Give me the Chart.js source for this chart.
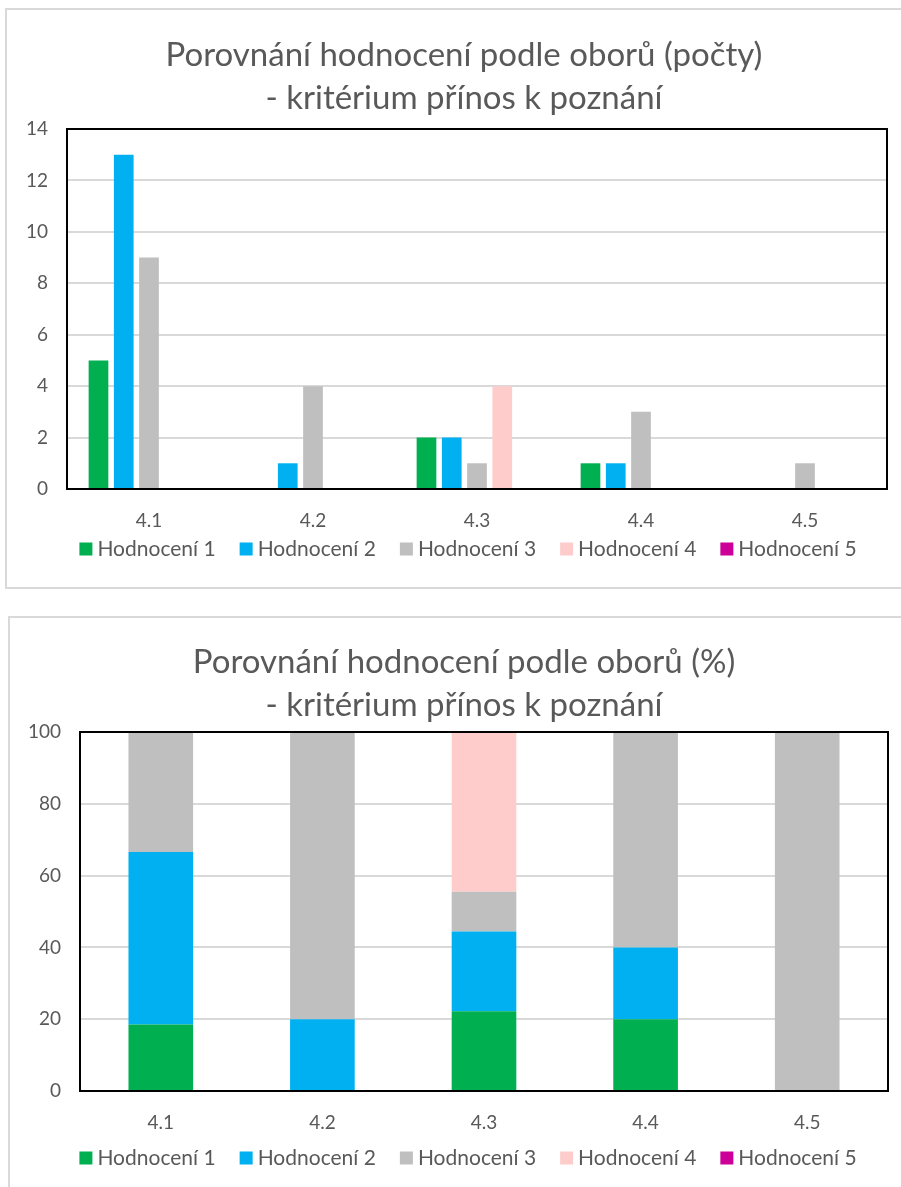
<!DOCTYPE html>
<html>
<head>
<meta charset="utf-8">
<script src="https://cdn.jsdelivr.net/npm/chart.js@4"></script>
<style>
  body { margin: 0; background: #fff; width: 901px; height: 1187px; overflow: hidden; position: relative; }
  .box { position: absolute; border: 2px solid #d9d9d9; background: #fff; }
  #boxTop { left: 5px; top: 8px; width: 930px; height: 577px; }
  #boxBottom { left: 8px; top: 616px; width: 930px; height: 600px; }
  canvas { position: absolute; }
  #countChart { left: 6px; top: 9px; }
  #pctChart { left: 8px; top: 617px; }
</style>
</head>
<body>
<div class="box" id="boxTop"></div>
<div class="box" id="boxBottom"></div>
<canvas id="countChart" width="916" height="578"></canvas>
<canvas id="pctChart" width="912" height="570"></canvas>
<script>
// data
const categories = ["4.1", "4.2", "4.3", "4.4", "4.5"];
const seriesNames = ["Hodnocení 1", "Hodnocení 2", "Hodnocení 3", "Hodnocení 4", "Hodnocení 5"];
const seriesColors = ["#00B050", "#00B0F0", "#BFBFBF", "#FFCCCC", "#CC0099"];

// counts (top chart)
const count1 = [5, 0, 2, 1, 0];
const count2 = [13, 1, 2, 1, 0];
const count3 = [9, 4, 1, 3, 1];
const count4 = [0, 0, 4, 0, 0];
const count5 = [0, 0, 0, 0, 0];

// percentages (bottom chart)
const pct1 = [18.5, 0, 22.2, 20, 0];
const pct2 = [48.1, 20, 22.2, 20, 0];
const pct3 = [33.4, 80, 11.1, 60, 100];
const pct4 = [0, 0, 44.5, 0, 0];
const pct5 = [0, 0, 0, 0, 0];

const countTicks = [0, 2, 4, 6, 8, 10, 12, 14];
const pctTicks = [0, 20, 40, 60, 80, 100];

const textColor = "#595959";
const fontName = "Lato";

// ================================
// frame around plot area
// ================================
const plotFrame = {
  id: "plotFrame",
  afterDraw(chart) {
    const a = chart.chartArea;
    const ctx = chart.ctx;
    ctx.save();
    ctx.strokeStyle = "#000";
    ctx.lineWidth = 2;
    ctx.strokeRect(a.left, a.top, a.right - a.left, a.bottom - a.top);
    ctx.restore();
  }
};

// title centred on the whole canvas, not on the padded box
const titleFullWidth = {
  id: "titleFullWidth",
  afterLayout(chart) {
    const t = chart.titleBlock;
    if (t) {
      t.left = 0;
      t.right = chart.width;
      t.width = chart.width;
    }
  }
};

// ================================
// legend row under the axis (excel-like spacing)
// ================================
const bottomLegend = {
  id: "bottomLegend",
  afterDraw(chart, args, opts) {
    const ctx = chart.ctx;
    const box = 13, gap = 5, spacing = 24;
    ctx.save();
    ctx.font = "21px " + fontName;
    const items = chart.data.datasets.map(ds => ({
      text: ds.label,
      color: ds.backgroundColor,
      w: box + gap + ctx.measureText(ds.label).width
    }));
    const total = items.reduce((s, it) => s + it.w, 0) + spacing * (items.length - 1);
    let x = chart.width / 2 + 4 - total / 2;
    const y = opts.y;
    ctx.textBaseline = "middle";
    items.forEach(it => {
      ctx.fillStyle = it.color;
      ctx.fillRect(x, y - box / 2, box, box);
      ctx.fillStyle = textColor;
      ctx.fillText(it.text, x + box + gap, y);
      x += it.w + spacing;
    });
    ctx.restore();
  }
};

function makeDatasets(lists) {
  return lists.map((d, i) => ({
    label: seriesNames[i],
    data: d,
    backgroundColor: seriesColors[i],
    borderWidth: 0
  }));
}

function makeOptions(cfg) {
  return {
    responsive: false,
    animation: false,
    layout: { padding: { left: 0, right: cfg.padRight, top: 0, bottom: cfg.padBottom } },
    plugins: {
      title: {
        display: true,
        text: cfg.title,
        color: textColor,
        font: { family: fontName, size: 33, weight: "normal", lineHeight: 43 / 33 },
        padding: { top: cfg.titleTop, bottom: cfg.titleBottom }
      },
      legend: { display: false },
      bottomLegend: { y: cfg.legendY },
      tooltip: { enabled: false }
    },
    scales: {
      x: {
        stacked: cfg.stacked,
        grid: { display: false, drawTicks: false },
        border: { display: false },
        ticks: { color: textColor, font: { family: fontName, size: 19 }, padding: 20 },
        afterFit(s) { s.height = 50; }
      },
      y: {
        stacked: cfg.stacked,
        min: 0,
        max: cfg.ticks[cfg.ticks.length - 1],
        grid: { color: "#d9d9d9", lineWidth: 2, drawTicks: false },
        border: { display: false },
        ticks: {
          color: textColor,
          font: { family: fontName, size: 19 },
          stepSize: cfg.ticks[1] - cfg.ticks[0],
          padding: 19
        },
        afterFit(s) { s.width = cfg.axisWidth; }
      }
    }
  };
}

new Chart(document.getElementById("countChart"), {
  type: "bar",
  data: {
    labels: categories,
    datasets: makeDatasets([count1, count2, count3, count4, count5]).map(ds => ({
      ...ds, categoryPercentage: 0.77, barPercentage: 0.78
    }))
  },
  options: makeOptions({
    title: ["Porovnání hodnocení podle oborů (počty)", "- kritérium přínos k poznání"],
    ticks: countTicks,
    stacked: false,
    axisWidth: 61,
    padRight: 35,
    padBottom: 48,
    titleTop: 25,
    titleBottom: 9,
    legendY: 540
  }),
  plugins: [plotFrame, titleFullWidth, bottomLegend]
});

new Chart(document.getElementById("pctChart"), {
  type: "bar",
  data: {
    labels: categories,
    datasets: makeDatasets([pct1, pct2, pct3, pct4, pct5]).map(ds => ({
      ...ds, categoryPercentage: 0.4, barPercentage: 1
    }))
  },
  options: makeOptions({
    title: ["Porovnání hodnocení podle oborů (%)", "- kritérium přínos k poznání"],
    ticks: pctTicks,
    stacked: true,
    axisWidth: 72,
    padRight: 32,
    padBottom: 46,
    titleTop: 24,
    titleBottom: 5,
    legendY: 541
  }),
  plugins: [plotFrame, titleFullWidth, bottomLegend]
});
</script>
</body>
</html>
